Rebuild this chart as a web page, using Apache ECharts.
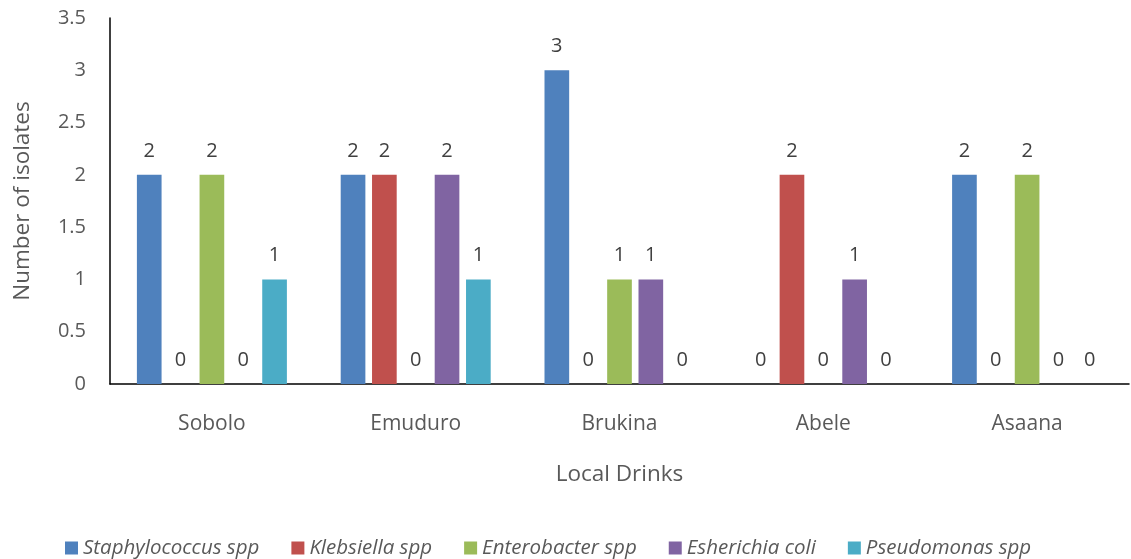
<!DOCTYPE html>
<html><head><meta charset="utf-8">
<script src="https://cdn.jsdelivr.net/npm/echarts@6/dist/echarts.min.js"></script>
<style>html,body{margin:0;padding:0;background:#fff}#c{width:1131px;height:559px}</style>
</head><body><div id="c"></div>
<script>
const categories = ["Sobolo", "Emuduro", "Brukina", "Abele", "Asaana"];
const seriesNames = ["Staphylococcus spp", "Klebsiella spp", "Enterobacter spp", "Esherichia coli", "Pseudomonas spp"];
const staphylococcus = [2, 2, 3, 0, 2];
const klebsiella = [0, 2, 0, 2, 0];
const enterobacter = [2, 0, 1, 0, 2];
const escherichia = [0, 2, 1, 1, 0];
const pseudomonas = [1, 1, 0, 0, 0];
const colors = ["#4F81BD", "#C0504D", "#9BBB59", "#8064A2", "#4BACC6"];
const allValues = [staphylococcus, klebsiella, enterobacter, escherichia, pseudomonas];
const FONT = "Open Sans";
const chart = echarts.init(document.getElementById('c'), null, {renderer: 'canvas'});
chart.setOption({
  animation: false,
  textStyle: {fontFamily: FONT},
  grid: {left: 110, right: 2, top: 18, bottom: 175, containLabel: false, outerBoundsMode: 'none'},
  legend: {
    top: 533, left: 60, itemWidth: 13, itemHeight: 13, itemGap: 32, itemTextGap: 5,
    icon: 'rect',
    textStyle: {fontFamily: FONT, fontSize: 20.5, fontStyle: 'italic', color: '#595959'},
    data: seriesNames
  },
  xAxis: {
    type: 'category', data: categories,
    name: 'Local Drinks', nameLocation: 'middle', nameGap: 79,
    nameTextStyle: {fontFamily: FONT, fontSize: 22.5, color: '#595959'},
    axisLine: {lineStyle: {color: '#000', width: 1.5}},
    axisTick: {show: false},
    axisLabel: {fontFamily: FONT, fontSize: 21, color: '#595959', margin: 30}
  },
  yAxis: {
    type: 'value', min: 0, max: 3.5, interval: 0.5,
    name: 'Number of isolates', nameLocation: 'middle', nameGap: 76,
    nameTextStyle: {fontFamily: FONT, fontSize: 22.5, color: '#595959'},
    axisLine: {show: true, lineStyle: {color: '#000', width: 1.5}},
    axisTick: {show: false},
    splitLine: {show: false},
    axisLabel: {fontFamily: FONT, fontSize: 20, color: '#595959', margin: 24}
  },
  series: seriesNames.map((n, i) => ({
    name: n, type: 'bar', data: allValues[i],
    itemStyle: {color: colors[i]},
    barGap: '27%', barCategoryGap: '26.4%',
    label: {show: true, position: 'top', distance: 14, fontFamily: FONT, fontSize: 20, color: '#404040'}
  }))
});
</script></body></html>
